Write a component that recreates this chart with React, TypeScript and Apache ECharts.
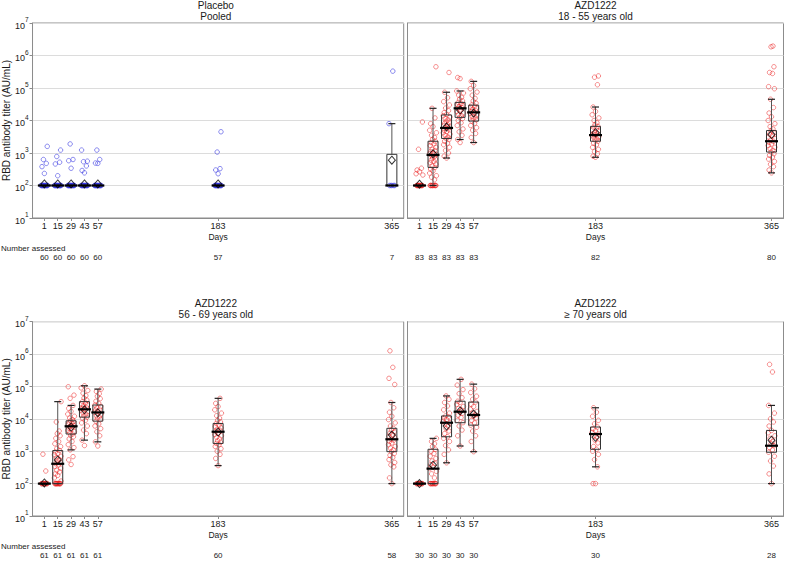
import React, { useEffect, useRef } from 'react';
import * as echarts from 'echarts';

// ---------- data ----------
const DAYS = [1, 15, 29, 43, 57, 183, 365];
const PANEL_TITLES = [
  'Placebo\nPooled',
  'AZD1222\n18 - 55 years old',
  'AZD1222\n56 - 69 years old',
  'AZD1222\n\u2265 70 years old',
];
const Y_TITLE = 'RBD antibody titer (AU/mL)';
const X_TITLE = 'Days';
const COUNT_TITLE = 'Number assessed';

const COUNTS_PLACEBO = [60, 60, 60, 60, 60, 57, 7];
const COUNTS_18_55 = [83, 83, 83, 83, 83, 82, 80];
const COUNTS_56_69 = [61, 61, 61, 61, 61, 60, 58];
const COUNTS_70 = [30, 30, 30, 30, 30, 30, 28];

// box stats per day: [min, Q1, median, Q3, max]
const BOX_PLACEBO = [
  [100, 100, 100, 100, 100], [100, 100, 100, 100, 100], [100, 100, 100, 100, 100],
  [100, 100, 100, 100, 100], [100, 100, 100, 100, 100], [100, 100, 100, 100, 100],
  [100, 100, 100, 910, 8000],
];
const BOX_18_55 = [
  [100, 100, 100, 100, 100], [100, 360, 870, 2300, 23700], [700, 2800, 5900, 14800, 74000],
  [2600, 12500, 23700, 36000, 81000], [2100, 9600, 17800, 29600, 160000],
  [740, 2300, 3560, 6600, 26000], [245, 1070, 2300, 4900, 45000],
];
const BOX_56_69 = [
  [100, 100, 100, 100, 100], [100, 100, 410, 1050, 34000], [1100, 3400, 5900, 8700, 26000],
  [2200, 11300, 19700, 34000, 105000], [1950, 8500, 15800, 26800, 83000],
  [360, 1740, 4000, 7200, 43000], [100, 970, 2340, 5100, 32000],
];
const BOX_70 = [
  [100, 100, 100, 100, 100], [100, 100, 290, 1150, 2500], [440, 2800, 7600, 12300, 51000],
  [1450, 7600, 16600, 35000, 166000], [970, 6400, 13200, 33000, 118000],
  [330, 1150, 3400, 5600, 22000], [100, 930, 1480, 4400, 26000],
];

// geometric means per day
const GM_PLACEBO = [112, 112, 112, 112, 112, 112, 600];
const GM_18_55 = [110, 950, 6300, 21000, 17000, 4200, 3700];
const GM_56_69 = [105, 540, 5600, 19000, 15500, 3900, 3150];
const GM_70 = [100, 370, 6000, 17500, 14000, 2700, 2200];

// individual titers per day
const PTS_PLACEBO = [
  [100, 100, 100, 100, 100, 100, 100, 100, 100, 100, 100, 100, 100, 100, 235, 380, 480, 630, 1600],
  [100, 100, 100, 100, 100, 100, 100, 100, 100, 100, 100, 100, 100, 100, 200, 460, 520, 780, 1230],
  [100, 100, 100, 100, 100, 100, 100, 100, 100, 100, 100, 100, 100, 100, 340, 580, 630, 1900],
  [100, 100, 100, 100, 100, 100, 100, 100, 100, 100, 100, 100, 100, 100, 245, 290, 400, 540, 560, 1230],
  [100, 100, 100, 100, 100, 100, 100, 100, 100, 100, 100, 100, 100, 100, 480, 490, 630, 1230],
  [100, 100, 100, 100, 100, 100, 100, 100, 100, 100, 100, 100, 100, 100, 230, 300, 330, 1070, 4500],
  [100, 100, 100, 100, 100, 8000, 330000],
];
const PTS_18_55 = [
  [100, 100, 100, 100, 100, 100, 100, 100, 100, 100, 100, 100, 210, 230, 265, 300, 340, 1300, 9000],
  [100, 100, 100, 100, 100, 100, 100, 100, 100, 100, 150, 180, 200, 240, 280, 320, 360, 400, 450, 500, 550, 600,
    650, 700, 780, 850, 900, 950, 1000, 1100, 1200, 1300, 1500, 1700, 1900, 2100, 2300, 2600, 3000, 3500, 4200,
    5000, 6500, 8000, 12000, 23700, 450000],
  [700, 800, 1000, 1200, 1500, 1800, 2000, 2300, 2600, 2800, 3100, 3500, 3800, 4200, 4600, 5000, 5500, 5900, 6300,
    6800, 7400, 8000, 8800, 9500, 10500, 11500, 12800, 14000, 15500, 17500, 20000, 24000, 30000, 38000, 50000,
    74000, 300000],
  [2100, 2600, 3500, 4500, 5500, 7000, 8500, 10000, 11500, 12500, 14000, 15500, 17000, 19000, 21000, 23700, 25000,
    27000, 29000, 31000, 33000, 36000, 40000, 45000, 52000, 60000, 70000, 81000, 195000, 210000],
  [2100, 3000, 4000, 5000, 6000, 7000, 8200, 9600, 10500, 11500, 12500, 13500, 15000, 16500, 17800, 19000, 20500,
    22000, 24000, 26000, 28000, 30000, 34000, 40000, 48000, 60000, 75000, 95000, 120000, 160000],
  [740, 800, 950, 1100, 1300, 1500, 1800, 2000, 2300, 2500, 2700, 3000, 3200, 3400, 3600, 3800, 4000, 4300, 4700,
    5100, 5600, 6200, 6600, 7500, 8500, 10000, 12000, 15000, 19000, 26000, 126000, 215000, 235000],
  [245, 300, 380, 450, 550, 650, 750, 850, 950, 1070, 1200, 1350, 1500, 1700, 1900, 2100, 2300, 2500, 2800, 3100,
    3400, 3800, 4200, 4900, 5500, 6500, 8000, 10000, 13000, 17000, 25000, 45000, 95000, 110000, 280000, 300000,
    450000, 1850000, 1950000],
];
const PTS_56_69 = [
  [100, 100, 100, 100, 100, 100, 100, 100, 100, 100, 245, 810],
  [100, 100, 100, 100, 100, 100, 100, 100, 100, 100, 100, 100, 120, 150, 180, 200, 230, 260, 300, 340, 380, 410,
    450, 500, 560, 620, 700, 780, 860, 950, 1050, 1200, 1400, 1700, 2000, 2500, 3000, 3500, 4200, 8000, 34000],
  [390, 540, 680, 1100, 1300, 1600, 2000, 2400, 2800, 3100, 3400, 3700, 4000, 4400, 4800, 5200, 5600, 5900, 6300,
    6800, 7300, 7800, 8300, 8700, 9500, 10500, 12000, 14000, 17000, 21000, 26000, 43000, 54000, 98000],
  [1500, 2200, 3500, 4500, 6000, 7500, 9000, 10500, 11300, 12500, 14000, 15500, 17000, 18500, 19700, 21000, 23000,
    25000, 27000, 29000, 31000, 34000, 38000, 44000, 52000, 62000, 75000, 90000, 105000],
  [1450, 1950, 3000, 4000, 5000, 6000, 7000, 8500, 9500, 10500, 11500, 12500, 14000, 15800, 17000, 18500, 20000,
    22000, 24000, 26800, 30000, 35000, 42000, 50000, 60000, 70000, 83000],
  [360, 600, 800, 1000, 1200, 1400, 1600, 1740, 1900, 2100, 2400, 2700, 3000, 3300, 3600, 4000, 4400, 4800, 5300,
    5800, 6400, 7200, 8000, 9000, 10500, 12500, 15000, 19000, 24000, 30000, 43000],
  [100, 150, 330, 380, 450, 550, 650, 750, 850, 970, 1100, 1250, 1400, 1600, 1800, 2000, 2200, 2340, 2600, 2900,
    3200, 3600, 4000, 4500, 5100, 6000, 7500, 9500, 12000, 16000, 22000, 32000, 115000, 178000, 390000, 1260000],
];
const PTS_70 = [
  [100, 100, 100, 100, 100, 100, 100, 100, 100, 100],
  [100, 100, 100, 100, 100, 100, 100, 100, 100, 100, 150, 200, 240, 290, 330, 380, 420, 500, 600, 700, 850, 1000,
    1150, 1400, 1700, 2000, 2500],
  [440, 800, 1100, 1500, 2000, 2500, 2800, 3500, 4200, 5000, 6000, 7000, 7600, 8500, 9500, 10500, 11500, 12300,
    15000, 19000, 25000, 32000, 40000, 51000],
  [1450, 3000, 4500, 6000, 7600, 9000, 11000, 13000, 15000, 16600, 18500, 21000, 24000, 28000, 32000, 35000, 45000,
    60000, 80000, 110000, 166000],
  [970, 2000, 3000, 4200, 5500, 6400, 7500, 9000, 10500, 12000, 13200, 15000, 17000, 20000, 24000, 28000, 33000,
    40000, 50000, 65000, 85000, 118000],
  [100, 100, 330, 550, 800, 1000, 1150, 1400, 1800, 2200, 2700, 3000, 3400, 3800, 4300, 4900, 5600, 7000, 9000,
    12000, 16000, 22000],
  [100, 200, 350, 500, 700, 930, 1100, 1300, 1480, 1700, 2000, 2500, 3000, 3700, 4400, 6000, 8000, 10000, 15000,
    26000, 280000, 480000],
];

// horizontal jitter pattern (in days) for the individual points
const JITTER = [0, -2.5, 2, -1, 3, -3, 1, -2, 2.5, -0.5, 1.5, -1.5, 3.5, -3.5];

// ---------- layout / style ----------
const FONT = '"Liberation Sans", Arial, Helvetica, sans-serif';
const GRIDS = [
  { left: 28, top: 23, width: 375.7, height: 195 },
  { left: 407.5, top: 23, width: 376, height: 195 },
  { left: 28, top: 321.7, width: 375.7, height: 194.3 },
  { left: 407.5, top: 321.7, width: 376, height: 194.3 },
];
const X_MIN = -11.4;
const X_MAX = 377.4;

const PANELS = [
  { title: PANEL_TITLES[0], counts: COUNTS_PLACEBO, box: BOX_PLACEBO, gm: GM_PLACEBO, pts: PTS_PLACEBO, color: 'rgba(50,50,225,0.7)' },
  { title: PANEL_TITLES[1], counts: COUNTS_18_55, box: BOX_18_55, gm: GM_18_55, pts: PTS_18_55, color: 'rgba(235,20,20,0.6)' },
  { title: PANEL_TITLES[2], counts: COUNTS_56_69, box: BOX_56_69, gm: GM_56_69, pts: PTS_56_69, color: 'rgba(235,20,20,0.6)' },
  { title: PANEL_TITLES[3], counts: COUNTS_70, box: BOX_70, gm: GM_70, pts: PTS_70, color: 'rgba(235,20,20,0.6)' },
];

function buildOption() {
  const grid: any[] = [];
  const xAxis: any[] = [];
  const yAxis: any[] = [];
  const series: any[] = [];
  const graphic: any[] = [];

  PANELS.forEach((p, i) => {
    const g = GRIDS[i];
    const isLeft = i % 2 === 0;
    grid.push({ ...g, show: true, borderColor: '#8c8c8c', borderWidth: 1, backgroundColor: 'transparent' });

    xAxis.push({
      type: 'value', gridIndex: i, min: X_MIN, max: X_MAX,
      axisLine: { show: true, onZero: false, lineStyle: { color: '#8c8c8c' } },
      axisTick: { show: true, length: 3, customValues: DAYS, lineStyle: { color: '#8c8c8c' } },
      axisLabel: { show: true, customValues: DAYS, fontSize: 9, color: '#1a1a1a', margin: 3, fontFamily: FONT },
      splitLine: { show: false },
      name: X_TITLE, nameLocation: 'middle', nameGap: 14,
      nameTextStyle: { fontSize: 8.5, color: '#1a1a1a', fontFamily: FONT },
    });
    xAxis.push({
      type: 'value', gridIndex: i, min: X_MIN, max: X_MAX, position: 'bottom', offset: 32,
      axisLine: { show: false, onZero: false }, axisTick: { show: false }, splitLine: { show: false },
      axisLabel: {
        show: true, customValues: DAYS, fontSize: 8, color: '#1a1a1a', margin: 3, fontFamily: FONT,
        formatter: (v: number) => String(p.counts[DAYS.indexOf(v)] ?? ''),
      },
    });

    yAxis.push({
      type: 'log', logBase: 10, gridIndex: i, min: 10, max: 1e7,
      axisLine: { show: true, onZero: false, lineStyle: { color: '#8c8c8c' } },
      axisTick: { show: isLeft, length: 3, lineStyle: { color: '#8c8c8c' } },
      splitLine: { show: true, lineStyle: { color: '#dcdcdc', width: 1 } },
      axisLabel: {
        show: isLeft, margin: 4, fontFamily: FONT,
        formatter: (v: number) => '{b|10}{s|' + Math.round(Math.log10(v)) + '}',
        rich: {
          b: { fontSize: 9, color: '#1a1a1a', lineHeight: 14, verticalAlign: 'bottom', fontFamily: FONT },
          s: { fontSize: 6.5, color: '#1a1a1a', verticalAlign: 'top', fontFamily: FONT },
        },
      },
      name: isLeft ? Y_TITLE : '', nameLocation: 'middle', nameGap: 18,
      nameTextStyle: { fontSize: 10, color: '#1a1a1a', fontFamily: FONT },
    });

    const scatterData: number[][] = [];
    p.pts.forEach((arr, k) => {
      arr.forEach((v, j) => scatterData.push([DAYS[k] + JITTER[j % JITTER.length], v]));
    });
    series.push({
      type: 'scatter', xAxisIndex: 2 * i, yAxisIndex: i, z: 2,
      symbol: 'circle', symbolSize: 4.5, silent: true,
      itemStyle: { color: 'rgba(255,255,255,0)', borderColor: p.color, borderWidth: 1 },
      data: scatterData,
    });

    series.push({
      type: 'custom', xAxisIndex: 2 * i, yAxisIndex: i, z: 3, silent: true,
      data: p.box.map((b, k) => [DAYS[k], ...b]),
      encode: { x: 0, y: [1, 2, 3, 4, 5] },
      renderItem: (_params: any, api: any) => {
        const x = api.value(0);
        const pts = [1, 2, 3, 4, 5].map((d) => api.coord([x, api.value(d)]));
        const [pMin, pQ1, pMed, pQ3, pMax] = pts;
        const cx = pMed[0];
        const hw = 5, cap = 3.5, mw = 6.5;
        return {
          type: 'group',
          children: [
            { type: 'line', shape: { x1: cx, y1: pQ3[1], x2: cx, y2: pMax[1] }, style: { stroke: '#555', lineWidth: 1 } },
            { type: 'line', shape: { x1: cx, y1: pQ1[1], x2: cx, y2: pMin[1] }, style: { stroke: '#555', lineWidth: 1 } },
            { type: 'line', shape: { x1: cx - cap, y1: pMax[1], x2: cx + cap, y2: pMax[1] }, style: { stroke: '#222', lineWidth: 1.2 } },
            { type: 'line', shape: { x1: cx - cap, y1: pMin[1], x2: cx + cap, y2: pMin[1] }, style: { stroke: '#222', lineWidth: 1.2 } },
            { type: 'rect', shape: { x: cx - hw, y: pQ3[1], width: 2 * hw, height: pQ1[1] - pQ3[1] }, style: { fill: 'none', stroke: '#333', lineWidth: 1 } },
            { type: 'line', shape: { x1: cx - mw, y1: pMed[1], x2: cx + mw, y2: pMed[1] }, style: { stroke: '#000', lineWidth: 2.2 } },
          ],
        };
      },
    });

    series.push({
      type: 'scatter', xAxisIndex: 2 * i, yAxisIndex: i, z: 4, silent: true,
      symbol: 'diamond', symbolSize: [7, 8],
      itemStyle: { color: 'rgba(255,255,255,0)', borderColor: '#000', borderWidth: 1 },
      data: p.gm.map((v, k) => [DAYS[k], v]),
    });

    graphic.push({
      type: 'text', x: g.left + g.width / 2, y: i < 2 ? -0.5 : 297.5,
      style: { text: p.title, textAlign: 'center', textVerticalAlign: 'top', fontSize: 10, lineHeight: 11.5, fill: '#1a1a1a', fontFamily: FONT },
    });
    if (isLeft) {
      graphic.push({
        type: 'text', x: 1, y: i < 2 ? 248 : 546,
        style: { text: COUNT_TITLE, textAlign: 'left', textVerticalAlign: 'middle', fontSize: 8, fill: '#1a1a1a', fontFamily: FONT },
      });
    }
  });

  return {
    animation: false,
    backgroundColor: '#ffffff',
    textStyle: { fontFamily: FONT },
    grid, xAxis, yAxis, series, graphic,
  };
}

export default function App() {
  const ref = useRef<HTMLDivElement>(null);
  useEffect(() => {
    if (!ref.current) return;
    const chart = echarts.init(ref.current, undefined, { renderer: 'svg' });
    chart.setOption(buildOption() as any);
    return () => chart.dispose();
  }, []);
  return <div ref={ref} style={{ position: 'absolute', left: 0, top: 0, width: 787, height: 565 }} />;
}
